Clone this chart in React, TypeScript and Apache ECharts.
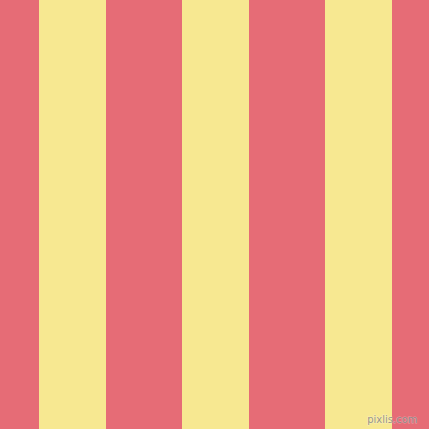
import React, { useEffect, useRef } from 'react';
import * as echarts from 'echarts';

// stripe edges along x (pixels of the 429 wide picture)
const stripeStarts = [0, 39, 106, 182, 249, 325, 392];
const stripeEnds = [39, 106, 182, 249, 325, 392, 429];
const stripeKinds = [0, 1, 0, 1, 0, 1, 0];
const palette = ['#E66C76', '#F7E891'];

const App: React.FC = () => {
	const chartContainer = useRef<HTMLDivElement | null>(null);

	useEffect(() => {
		document.body.style.margin = '0';
		if (!chartContainer.current) return;
		const chart = echarts.init(chartContainer.current, undefined, { renderer: 'svg' });

		const data = stripeStarts.map((s, i) => [s, stripeEnds[i], stripeKinds[i]]);

		chart.setOption({
			animation: false,
			grid: { left: 0, right: 0, top: 0, bottom: 0 },
			xAxis: { type: 'value', min: 0, max: 429, show: false },
			yAxis: { type: 'value', min: 0, max: 1, show: false },
			series: [
				{
					type: 'custom',
					data: data,
					renderItem: (params: any, api: any) => {
						const p0 = api.coord([api.value(0), 1]);
						const p1 = api.coord([api.value(1), 0]);
						return {
							type: 'rect',
							shape: { x: p0[0], y: p0[1], width: p1[0] - p0[0], height: p1[1] - p0[1] },
							style: { fill: palette[api.value(2)] },
						};
					},
				},
			],
			graphic: [
				{
					type: 'text',
					z: 100,
					right: 11,
					bottom: 4,
					style: {
						text: 'pixlis.com',
						font: '10px "DejaVu Sans", sans-serif',
						fill: 'rgba(125,125,125,0.8)',
						stroke: 'rgba(255,255,255,0.35)',
						lineWidth: 1,
					},
				},
			],
		});

		return () => {
			chart.dispose();
		};
	}, []);

	return <div ref={chartContainer} style={{ width: '429px', height: '429px' }} />;
};

export default App;
